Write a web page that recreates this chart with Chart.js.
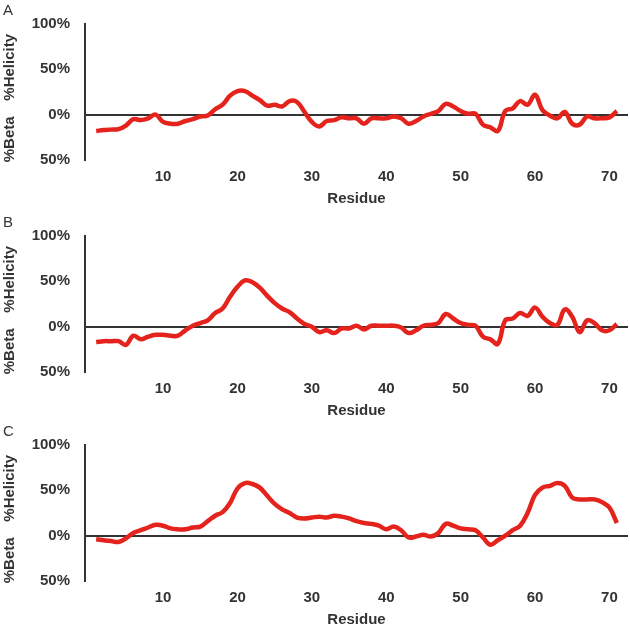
<!DOCTYPE html>
<html>
<head>
<meta charset="utf-8">
<script src="https://cdn.jsdelivr.net/npm/chart.js@4"></script>
<style>
    body { margin: 0; background: #fff; }
    .panel { position: absolute; left: 0; width: 630px; height: 210px; }
</style>
</head>
<body>
<div class="panel" style="top:0px"><canvas id="chartA"></canvas></div>
<div class="panel" style="top:212px"><canvas id="chartB"></canvas></div>
<div class="panel" style="top:421px"><canvas id="chartC"></canvas></div>
<script>
const residues = [1, 2, 3, 4, 5, 6, 7, 8, 9, 10, 11, 12, 13, 14, 15, 16, 17, 18, 19, 20,
    21, 22, 23, 24, 25, 26, 27, 28, 29, 30, 31, 32, 33, 34, 35, 36, 37, 38, 39, 40,
    41, 42, 43, 44, 45, 46, 47, 48, 49, 50, 51, 52, 53, 54, 55, 56, 57, 58, 59, 60,
    61, 62, 63, 64, 65, 66, 67, 68, 69, 70, 71];

const panelA = [-18, -17, -16.5, -16, -12, -5, -6, -4, 0, -8, -10, -10, -7, -5, -2, -1, 6, 11, 21, 26,
    26, 21, 16, 10, 11, 9, 15, 14, 3, -8, -13, -7, -6, -3, -4, -4, -10, -4, -4, -4,
    -2, -4, -10, -7, -2, 1, 4, 12, 9, 4, 1, 1, -11, -14, -18, 4, 7, 15, 11, 22,
    5, -1, -4, 3, -10, -11, -2, -4, -4, -3, 4];

const panelB = [-17, -16, -16, -16, -20, -10, -14, -11, -9, -9, -10, -10, -4, 1, 4, 7, 15, 20, 33, 44,
    51, 49, 43, 34, 26, 20, 16, 9, 3, 0, -6, -4, -7, -2, -2, 1, -3, 1, 1, 1,
    1, -1, -7, -4, 1, 2, 4, 14, 9, 4, 2, 1, -11, -14, -19, 7, 9, 15, 12, 21,
    11, 4, 2, 19, 11, -6, 7, 4, -4, -4, 3];

const panelC = [-4, -5, -6, -7, -3, 3, 6, 9, 12, 11, 8, 7, 7, 9, 10, 16, 22, 26, 36, 52,
    58, 57, 53, 44, 35, 29, 25, 20, 19, 20, 21, 20, 22, 21, 19, 16, 14, 13, 11, 7,
    10, 6, -2, -1, 1, -1, 3, 13, 11, 8, 7, 6, -2, -10, -5, 0, 6, 11, 25, 45,
    53, 55, 58, 55, 42, 40, 40, 40, 37, 31, 14];

const xTicks = [10, 20, 30, 40, 50, 60, 70];
const yTicks = [-50, 0, 50, 100];

const textColor = "#333";

// panel letter plus the two rotated y titles
const sideText = {
    id: "sideText",
    afterDraw(chart, args, opts) {
        const ctx = chart.ctx;
        ctx.save();
        ctx.fillStyle = textColor;
        ctx.font = "15px 'Liberation Sans', Arial, sans-serif";
        ctx.textAlign = "left";
        ctx.textBaseline = "middle";
        ctx.fillText(opts.letter, 3, 11);

        ctx.font = "bold 15px 'Liberation Sans', Arial, sans-serif";
        ctx.textAlign = "center";
        const y = chart.scales.y;
        const zero = y.getPixelForValue(0);
        ctx.translate(10, 0);
        ctx.rotate(-Math.PI / 2);
        ctx.fillText("%Helicity", -(y.top + zero) / 2 + 2, 0);
        ctx.fillText("%Beta", -(zero + y.bottom) / 2 - 2, 0);
        ctx.restore();
    },
};

function makeChart(id, letter, values) {
    new Chart(document.getElementById(id), {
        type: "line",
        data: {
            datasets: [
                {
                    data: residues.map((r, i) => ({ x: r, y: values[i] })),
                    borderColor: "#e5231d",
                    borderWidth: 4.5,
                    tension: 0.4,
                    pointRadius: 0,
                    fill: false,
                },
            ],
        },
        options: {
            responsive: true,
            maintainAspectRatio: false,
            animation: false,
            layout: { padding: { top: 24, right: 2, left: 0, bottom: 0 } },
            plugins: {
                legend: { display: false },
                tooltip: { enabled: false },
                sideText: { letter: letter },
            },
            scales: {
                x: {
                    type: "linear",
                    min: -0.5,
                    max: 72.5,
                    afterBuildTicks: (s) => { s.ticks = xTicks.map((v) => ({ value: v })); },
                    afterFit: (s) => { s.height = 50; },
                    grid: { display: false, drawTicks: false },
                    border: { display: false },
                    ticks: {
                        color: textColor,
                        padding: 8,
                        maxRotation: 0,
                        autoSkip: false,
                        font: { family: "'Liberation Sans', Arial, sans-serif", size: 15, weight: "bold" },
                    },
                    title: {
                        display: true,
                        text: "Residue",
                        color: textColor,
                        padding: { top: 0, bottom: 2 },
                        font: { family: "'Liberation Sans', Arial, sans-serif", size: 15, weight: "bold" },
                    },
                },
                y: {
                    min: -50,
                    max: 100,
                    afterBuildTicks: (s) => { s.ticks = yTicks.map((v) => ({ value: v })); },
                    afterFit: (s) => { s.width = 85; },
                    grid: {
                        drawTicks: false,
                        lineWidth: 2,
                        color: (c) => (c.tick && c.tick.value === 0 ? "#333" : "rgba(0,0,0,0)"),
                    },
                    border: { display: true, color: "#333", width: 2 },
                    ticks: {
                        color: textColor,
                        padding: 15,
                        callback: (v) => Math.abs(v) + "%",
                        font: { family: "'Liberation Sans', Arial, sans-serif", size: 15, weight: "bold" },
                    },
                },
            },
        },
        plugins: [sideText],
    });
}

makeChart("chartA", "A", panelA);
makeChart("chartB", "B", panelB);
makeChart("chartC", "C", panelC);
</script>
</body>
</html>
